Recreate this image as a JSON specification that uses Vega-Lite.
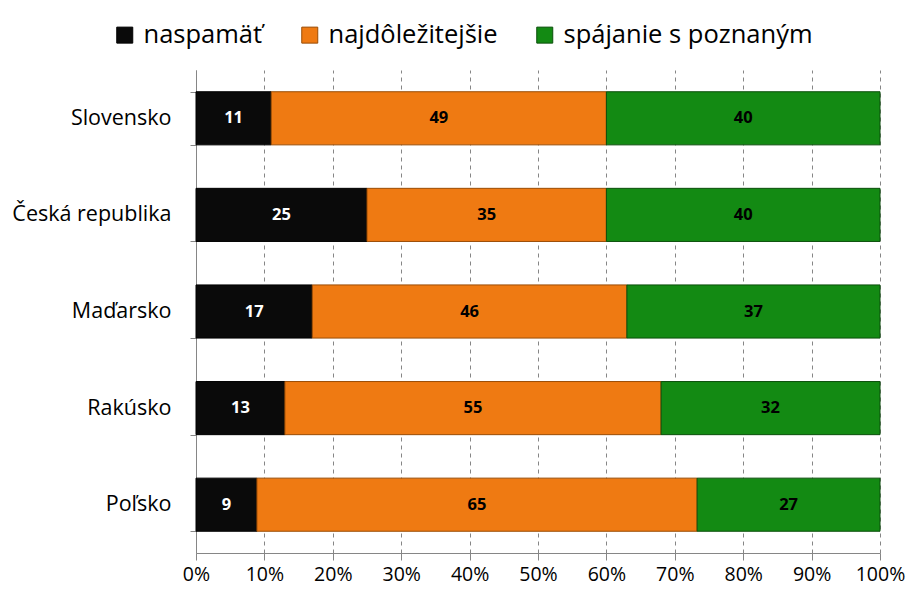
{
  "$schema": "https://vega.github.io/schema/vega-lite/v6.json",
  "width": 684,
  "height": 483,
  "autosize": {"type": "none"},
  "padding": {"left": 196, "top": 70, "right": 42, "bottom": 53},
  "background": "white",
  "config": {
    "font": "Open Sans",
    "view": {"stroke": null}
  },
  "data": {
    "values": [
      {"country": "Slovensko", "s": "naspamäť", "o": 1, "v": 11},
      {"country": "Slovensko", "s": "najdôležitejšie", "o": 2, "v": 49},
      {"country": "Slovensko", "s": "spájanie s poznaným", "o": 3, "v": 40},
      {"country": "Česká republika", "s": "naspamäť", "o": 1, "v": 25},
      {"country": "Česká republika", "s": "najdôležitejšie", "o": 2, "v": 35},
      {"country": "Česká republika", "s": "spájanie s poznaným", "o": 3, "v": 40},
      {"country": "Maďarsko", "s": "naspamäť", "o": 1, "v": 17},
      {"country": "Maďarsko", "s": "najdôležitejšie", "o": 2, "v": 46},
      {"country": "Maďarsko", "s": "spájanie s poznaným", "o": 3, "v": 37},
      {"country": "Rakúsko", "s": "naspamäť", "o": 1, "v": 13},
      {"country": "Rakúsko", "s": "najdôležitejšie", "o": 2, "v": 55},
      {"country": "Rakúsko", "s": "spájanie s poznaným", "o": 3, "v": 32},
      {"country": "Poľsko", "s": "naspamäť", "o": 1, "v": 9},
      {"country": "Poľsko", "s": "najdôležitejšie", "o": 2, "v": 65},
      {"country": "Poľsko", "s": "spájanie s poznaným", "o": 3, "v": 27}
    ]
  },
  "encoding": {
    "y": {
      "field": "country",
      "type": "nominal",
      "sort": ["Slovensko", "Česká republika", "Maďarsko", "Rakúsko", "Poľsko"],
      "scale": {"paddingInner": 0.45, "paddingOuter": 0.225},
      "axis": {
        "title": null,
        "tickBand": "extent",
        "domainColor": "#868686",
        "tickColor": "#868686",
        "tickSize": 6,
        "labelFontSize": 21.5,
        "labelColor": "black",
        "labelPadding": 19,
        "labelLimit": 300,
        "labelFont": "Open Sans"
      }
    }
  },
  "layer": [
    {
      "mark": {"type": "bar", "strokeWidth": 1},
      "encoding": {
        "x": {
          "field": "v",
          "type": "quantitative",
          "stack": "normalize",
          "scale": {"domain": [0, 1], "nice": false},
          "axis": {
            "title": null,
            "format": "%",
            "values": [0, 0.1, 0.2, 0.3, 0.4, 0.5, 0.6, 0.7, 0.8, 0.9, 1],
            "grid": true,
            "gridColor": "#868686",
            "gridDash": [4, 4],
            "gridWidth": 1,
            "domainColor": "#868686",
            "tickColor": "#868686",
            "tickSize": 7,
            "labelFontSize": 19.5,
            "labelColor": "black",
            "labelPadding": 5,
            "labelFlush": false,
            "labelOverlap": false,
            "labelFont": "Open Sans"
          }
        },
        "color": {
          "field": "s",
          "type": "nominal",
          "scale": {
            "domain": ["naspamäť", "najdôležitejšie", "spájanie s poznaným"],
            "range": ["#0a0a0a", "#ef7a12", "#138a13"]
          },
          "legend": {
            "title": null,
            "orient": "none",
            "direction": "horizontal",
            "columns": 3,
            "legendX": -84,
            "legendY": -48,
            "symbolType": "square",
            "symbolSize": 256,
            "symbolStrokeWidth": 1,
            "symbolStrokeColor": "#333333",
            "labelFontSize": 25.5,
            "labelColor": "black",
            "labelFont": "Open Sans",
            "labelLimit": 400,
            "labelOffset": 6,
            "columnPadding": 34
          }
        },
        "stroke": {
          "field": "s",
          "type": "nominal",
          "scale": {
            "domain": ["naspamäť", "najdôležitejšie", "spájanie s poznaným"],
            "range": ["#000000", "#9a4c05", "#0b4f0b"]
          },
          "legend": null
        },
        "order": {"field": "o"}
      }
    },
    {
      "mark": {"type": "text", "fontSize": 16.5, "fontWeight": "bold", "font": "Open Sans"},
      "encoding": {
        "x": {
          "field": "v",
          "type": "quantitative",
          "stack": "normalize",
          "bandPosition": 0.5
        },
        "text": {"field": "v", "type": "quantitative"},
        "order": {"field": "o"},
        "color": {
          "condition": {"test": "datum.s === 'naspamäť'", "value": "white"},
          "value": "black"
        }
      }
    }
  ]
}
